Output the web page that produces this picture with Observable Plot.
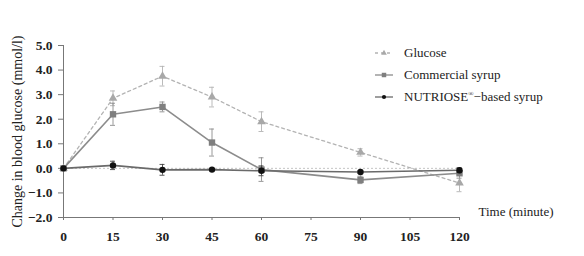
<!DOCTYPE html>
<html><head><meta charset="utf-8">
<script src="https://cdn.jsdelivr.net/npm/d3@7"></script>
<script src="https://cdn.jsdelivr.net/npm/@observablehq/plot@0.6"></script>
<style>
body{margin:0;background:#fff;}
#wrap{position:relative;width:584px;height:256px;}
#legend{position:absolute;left:374px;top:42px;font-family:"Liberation Serif",serif;font-size:13px;color:#222;}
.row{display:flex;align-items:center;height:22px;}
.row svg{margin-right:10px;}
sup{font-size:7px;}
</style></head>
<body><div id="wrap"><div id="legend"></div></div>
<script>
const times = [0, 15, 30, 45, 60, 90, 120];
const seriesNames = ["Glucose", "Commercial syrup", "NUTRIOSE®−based syrup"];
const glucose = [0, 2.85, 3.75, 2.9, 1.9, 0.65, -0.6];
const glucoseErr = [0, 0.3, 0.4, 0.4, 0.4, 0.15, 0.35];
const commercial = [0, 2.2, 2.5, 1.05, -0.05, -0.47, -0.2];
const commercialErr = [0, 0.45, 0.2, 0.55, 0.48, 0.15, 0.2];
const nutriose = [0, 0.12, -0.06, -0.05, -0.1, -0.15, -0.08];
const nutrioseErr = [0, 0.17, 0.22, 0, 0.2, 0.05, 0.1];
const xTicks = [0, 15, 30, 45, 60, 75, 90, 105, 120];
const yTicks = [-2, -1, 0, 1, 2, 3, 4, 5];

const styles = [
  {stroke: "#b3b3b3", dash: "3,3", symbol: "triangle", fill: "#a8a8a8", r: 3.2},
  {stroke: "#8c8c8c", dash: null, symbol: "square", fill: "#7f7f7f", r: 3.6},
  {stroke: "#6a6a6a", dash: null, symbol: "circle", fill: "#111", r: 3.2}
];
const vals = [glucose, commercial, nutriose];
const errs = [glucoseErr, commercialErr, nutrioseErr];
const data = [];
vals.forEach((arr, s) => arr.forEach((v, i) => data.push({s, t: times[i], v, e: errs[s][i]})));
const errData = data.filter(d => d.e > 0);

const marks = [
  Plot.ruleY([0], {stroke: "#c4c4c4", strokeDasharray: "2,2", strokeWidth: 1}),
  Plot.frame({anchor: "left", stroke: "#777"}),
  Plot.frame({anchor: "bottom", stroke: "#777"})
];
styles.forEach((st, s) => {
  const d = data.filter(x => x.s === s);
  const ed = errData.filter(x => x.s === s);
  const ec = s === 2 ? "#444" : st.stroke;
  marks.push(
    Plot.line(d, {x: "t", y: "v", stroke: st.stroke, strokeWidth: s === 0 ? 1.3 : 1.6, strokeDasharray: st.dash}),
    Plot.ruleX(ed, {x: "t", y1: d => d.v - d.e, y2: d => d.v + d.e, stroke: ec, strokeWidth: 0.9}),
    Plot.ruleY(ed, {y: d => d.v - d.e, x1: "t", x2: "t", insetLeft: -2.5, insetRight: -2.5, stroke: ec, strokeWidth: 0.9}),
    Plot.ruleY(ed, {y: d => d.v + d.e, x1: "t", x2: "t", insetLeft: -2.5, insetRight: -2.5, stroke: ec, strokeWidth: 0.9}),
    Plot.dot(d, {x: "t", y: "v", symbol: st.symbol, fill: st.fill, r: st.r, stroke: "none"})
  );
});
marks.push(Plot.text(["Time (minute)"], {frameAnchor: "bottom-right", dx: 19, dy: -2, textAnchor: "start",
  fontSize: 13, fontFamily: "Liberation Serif, serif", fill: "#222"}));

const chart = Plot.plot({
  width: 584, height: 256,
  marginLeft: 63, marginRight: 125, marginTop: 45, marginBottom: 39,
  style: {fontFamily: "Liberation Serif, serif", fontSize: "13px", color: "#222", background: "#fff"},
  x: {domain: [0, 120], ticks: xTicks, tickSize: 3, tickPadding: 11, tickFormat: d3.format("d"), label: null},
  y: {domain: [-2, 5], ticks: yTicks, tickSize: 5, tickPadding: 6, tickFormat: d3.format(".1f"),
      label: "Change in blood glucose (mmol/l)", labelAnchor: "center", labelOffset: 51, labelArrow: "none"},
  marks
});
chart.querySelectorAll("g[aria-label='x-axis tick label'] text, g[aria-label='y-axis tick label'] text").forEach(t => { t.setAttribute("font-weight", "bold"); t.setAttribute("font-size", "13.5"); });
chart.querySelectorAll("g[aria-label='y-axis label'] text").forEach(t => t.setAttribute("font-size", "14"));
chart.querySelectorAll("g[aria-label$='tick'] path").forEach(p => p.setAttribute("stroke", "#777"));
document.getElementById("wrap").prepend(chart);

const legend = document.getElementById("legend");
seriesNames.forEach((name, s) => {
  const st = styles[s];
  const row = document.createElement("div");
  row.className = "row";
  const sym = d3.symbol().type(st.symbol === "triangle" ? d3.symbolTriangle : st.symbol === "square" ? d3.symbolSquare : d3.symbolCircle)
    .size(st.symbol === "square" ? 20 : 14)();
  row.innerHTML = `<svg width="20" height="10"><line x1="1" x2="19" y1="5" y2="5" stroke="${st.stroke}" stroke-width="1.3" ${st.dash ? `stroke-dasharray="${st.dash}"` : ""}/><path d="${sym}" transform="translate(10,5)" fill="${st.fill}"/></svg>` +
    `<span>${name.replace("®", "<sup>®</sup>")}</span>`;
  legend.appendChild(row);
});
</script></body></html>
